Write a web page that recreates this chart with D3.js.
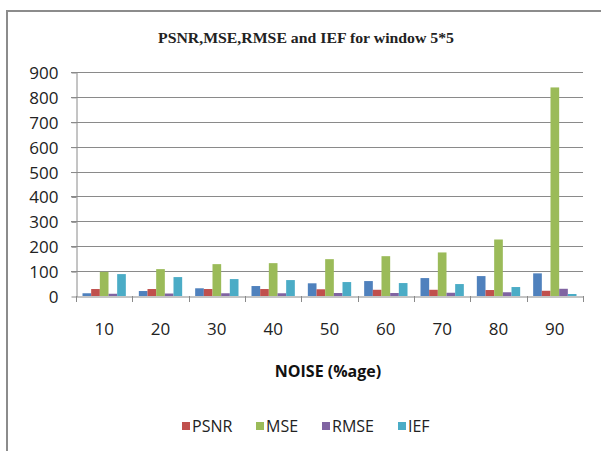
<!DOCTYPE html>
<html>
<head>
<meta charset="utf-8">
<script src="https://cdn.jsdelivr.net/npm/d3@7"></script>
<style>
  html, body { margin: 0; padding: 0; background: #fff; }
  svg { display: block; }
</style>
</head>
<body>
<script>
// ---- data ----
const categories = ["10", "20", "30", "40", "50", "60", "70", "80", "90"];
const seriesNames = ["NOISE", "PSNR", "MSE", "RMSE", "IEF"];
const noiseValues = [11, 20, 31, 40, 51, 60, 72, 80, 91];
const psnrValues  = [28, 28, 28, 28, 27, 25, 25, 24, 21];
const mseValues   = [97, 108, 128, 132, 148, 160, 175, 227, 838];
const rmseValues  = [9, 10, 11, 11, 12, 12, 13, 15, 29];
const iefValues   = [88, 76, 68, 64, 56, 52, 48, 36, 8];
const yTicks = [0, 100, 200, 300, 400, 500, 600, 700, 800, 900];
const legendNames = ["PSNR", "MSE", "RMSE", "IEF"];
const colors = {NOISE: "#4F81BD", PSNR: "#C0504D", MSE: "#9BBB59", RMSE: "#8064A2", IEF: "#4BACC6"};
const titleText = "PSNR,MSE,RMSE and IEF for window 5*5";
const xTitle = "NOISE (%age)";

const valuesBySeries = {NOISE: noiseValues, PSNR: psnrValues, MSE: mseValues, RMSE: rmseValues, IEF: iefValues};

const W = 601, H = 451;
const svg = d3.select("body").append("svg").attr("width", W).attr("height", H);

// frame
svg.append("path")
  .attr("d", "M7,460 L7,11 L610,11")
  .attr("fill", "none").attr("stroke", "#8c8c8c").attr("stroke-width", 2);

const plot = {left: 76, right: 583, top: 72, bottom: 296};

const x0 = d3.scaleBand().domain(categories).range([plot.left, plot.right]).padding(0);
const gw = x0.bandwidth();
const gapHalf = gw * 0.75 / 6.5;
const x1 = d3.scaleBand().domain(seriesNames).range([gapHalf, gw - gapHalf]).padding(0);
const y = d3.scaleLinear().domain([0, 900]).range([plot.bottom, plot.top]);

// gridlines
svg.append("g").selectAll("line").data(yTicks.filter(d => d > 0)).join("line")
  .attr("x1", plot.left - 5).attr("x2", plot.right)
  .attr("y1", d => Math.round(y(d)) + 0.5).attr("y2", d => Math.round(y(d)) + 0.5)
  .attr("stroke", "#8a8a8a").attr("stroke-width", 1);

// y axis
const yAxis = svg.append("g").attr("transform", `translate(${plot.left + 0.5},0.5)`)
  .call(d3.axisLeft(y).tickValues(yTicks).tickSize(5).tickSizeOuter(0).tickPadding(13));
yAxis.select(".domain").attr("stroke", "#8a8a8a");
yAxis.selectAll(".tick line").attr("stroke", "#8a8a8a");
yAxis.selectAll("text").attr("font-family", "'Open Sans', sans-serif").attr("font-size", 17)
  .attr("fill", "#222").attr("dy", "0.35em");

// bars
const groups = svg.append("g").selectAll("g").data(categories).join("g")
  .attr("transform", d => `translate(${x0(d)},0)`);
groups.selectAll("rect").data((c, i) => seriesNames.map(s => ({s, v: valuesBySeries[s][i]}))).join("rect")
  .attr("x", d => x1(d.s))
  .attr("width", x1.bandwidth())
  .attr("y", d => y(d.v))
  .attr("height", d => plot.bottom - y(d.v))
  .attr("fill", d => colors[d.s]);

// x axis
const xAxis = svg.append("g").attr("transform", `translate(0,${plot.bottom + 0.5})`)
  .call(d3.axisBottom(x0).tickSize(0).tickPadding(26));
xAxis.select(".domain").attr("stroke", "#8a8a8a");
xAxis.selectAll("text").attr("font-family", "'Open Sans', sans-serif").attr("font-size", 17).attr("fill", "#222");
// category boundary ticks
const bounds = categories.map(c => x0(c)).concat([plot.right]);
svg.append("g").selectAll("line").data(bounds).join("line")
  .attr("x1", d => Math.round(d) + 0.5).attr("x2", d => Math.round(d) + 0.5)
  .attr("y1", plot.bottom).attr("y2", plot.bottom + 6)
  .attr("stroke", "#8a8a8a");

// title
svg.append("text").attr("x", 306).attr("y", 43).attr("text-anchor", "middle")
  .attr("font-family", "'Liberation Serif', 'Times New Roman', serif").attr("font-weight", "bold")
  .attr("font-size", 15).attr("fill", "#222")
  .attr("textLength", 296).attr("lengthAdjust", "spacingAndGlyphs")
  .text(titleText);

// x axis title
svg.append("text").attr("x", 328).attr("y", 377).attr("text-anchor", "middle")
  .attr("font-family", "'Open Sans', sans-serif").attr("font-weight", "bold")
  .attr("font-size", 16).attr("fill", "#111").text(xTitle);

// legend
const legendX = [182, 256, 322, 398];
const leg = svg.append("g").selectAll("g").data(legendNames).join("g")
  .attr("transform", (d, i) => `translate(${legendX[i]},426)`);
leg.append("rect").attr("x", 0).attr("y", -4).attr("width", 8).attr("height", 8).attr("fill", d => colors[d]);
leg.append("text").attr("x", 10).attr("y", 0).attr("dy", "0.35em")
  .attr("font-family", "'Open Sans', sans-serif").attr("font-size", 16).attr("fill", "#222").text(d => d);
</script>
</body>
</html>
